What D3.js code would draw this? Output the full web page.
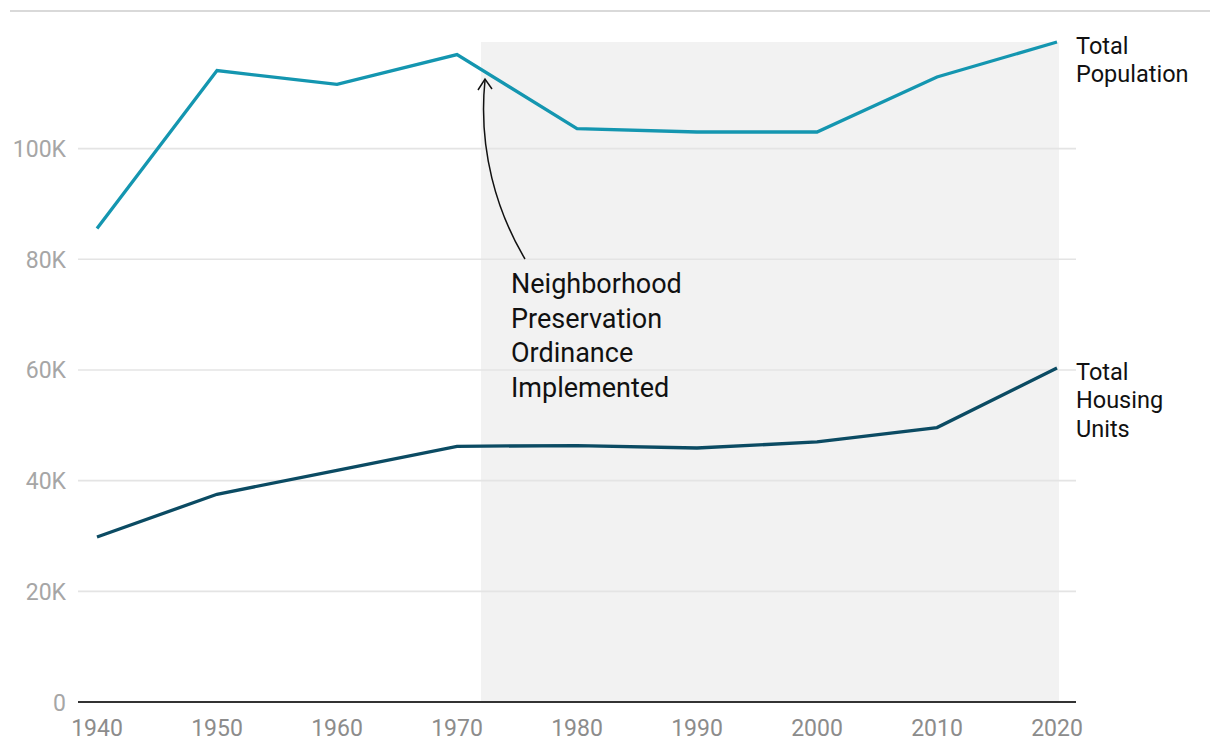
<!DOCTYPE html>
<html><head><meta charset="utf-8">
<script src="https://cdn.jsdelivr.net/npm/d3@7"></script>
<style>
body{margin:0;background:#fff;}
svg{display:block;font-family:Roboto,"Noto Sans",sans-serif;}
</style></head>
<body><svg id="c" width="1220" height="752"></svg>
<script>
const years = [1940,1950,1960,1970,1980,1990,2000,2010,2020];
const population = [85550,114100,111630,117000,103620,103010,103010,112950,119270];
const housing = [29820,37540,41870,46210,46340,45900,46990,49590,60360];
const yTicks = [0,20000,40000,60000,80000,100000];
const shadeStart = 1972, shadeEnd = 2020;
const annotation = ["Neighborhood","Preservation","Ordinance","Implemented"];
const popLabel = ["Total","Population"];
const housingLabel = ["Total","Housing","Units"];

const svg = d3.select("#c");
const x = d3.scaleLinear().domain([1940,2020]).range([97,1057]);
const y = d3.scaleLinear().domain([0,d3.max(population)]).range([702,42]);

// top rule
svg.append("line").attr("x1",10).attr("x2",1210).attr("y1",11).attr("y2",11)
  .attr("stroke","#d9d9d9").attr("stroke-width",2);

// shade
svg.append("rect").attr("x",x(shadeStart)).attr("y",y(d3.max(population)))
  .attr("width",x(shadeEnd)-x(shadeStart)+2).attr("height",y(0)-y(d3.max(population)))
  .attr("fill","#f2f2f2");

// gridlines
svg.append("g").selectAll("line").data(yTicks.filter(d=>d>0)).join("line")
  .attr("x1",78).attr("x2",1076).attr("y1",d=>y(d)).attr("y2",d=>y(d))
  .attr("stroke","#e4e4e4").attr("stroke-width",1.6);

// y labels
svg.append("g").selectAll("text").data(yTicks).join("text")
  .attr("x",66).attr("y",d=>y(d)+8.5).attr("text-anchor","end")
  .attr("fill","#a6a6a6").attr("font-size",23)
  .text(d=>d===0?"0":(d/1000)+"K");

// x axis
svg.append("line").attr("x1",78).attr("x2",1076).attr("y1",y(0)).attr("y2",y(0))
  .attr("stroke","#333").attr("stroke-width",2);
svg.append("g").selectAll("text").data(years).join("text")
  .attr("x",d=>x(d)).attr("y",736).attr("text-anchor","middle")
  .attr("fill","#8c8c8c").attr("font-size",23).text(d=>d);

// lines
const line = vals => d3.line().x((d,i)=>x(years[i])).y(d=>y(d))(vals);
svg.append("path").attr("d",line(housing)).attr("fill","none")
  .attr("stroke","#0b4b63").attr("stroke-width",3.3).attr("stroke-linejoin","miter");
svg.append("path").attr("d",line(population)).attr("fill","none")
  .attr("stroke","#1496b0").attr("stroke-width",3.3).attr("stroke-linejoin","miter");

// series labels
svg.append("text").attr("font-size",23.5).attr("fill","#111")
  .selectAll("tspan").data(popLabel).join("tspan")
  .attr("x",1076).attr("y",(d,i)=>54+i*27.8).text(d=>d);
svg.append("text").attr("font-size",23.5).attr("fill","#111")
  .selectAll("tspan").data(housingLabel).join("tspan")
  .attr("x",1076).attr("y",(d,i)=>380+i*28.3).text(d=>d);

// annotation
svg.append("text").attr("font-size",27).attr("fill","#111")
  .selectAll("tspan").data(annotation).join("tspan")
  .attr("x",511).attr("y",(d,i)=>293+i*34.7).text(d=>d);

// arrow
svg.append("path").attr("d","M525,259 C497,212 478,150 485,80")
  .attr("fill","none").attr("stroke","#111").attr("stroke-width",1.5);
svg.append("path").attr("d","M478,90 L485,79 L492,89")
  .attr("fill","none").attr("stroke","#111").attr("stroke-width",1.5);
</script></body></html>
